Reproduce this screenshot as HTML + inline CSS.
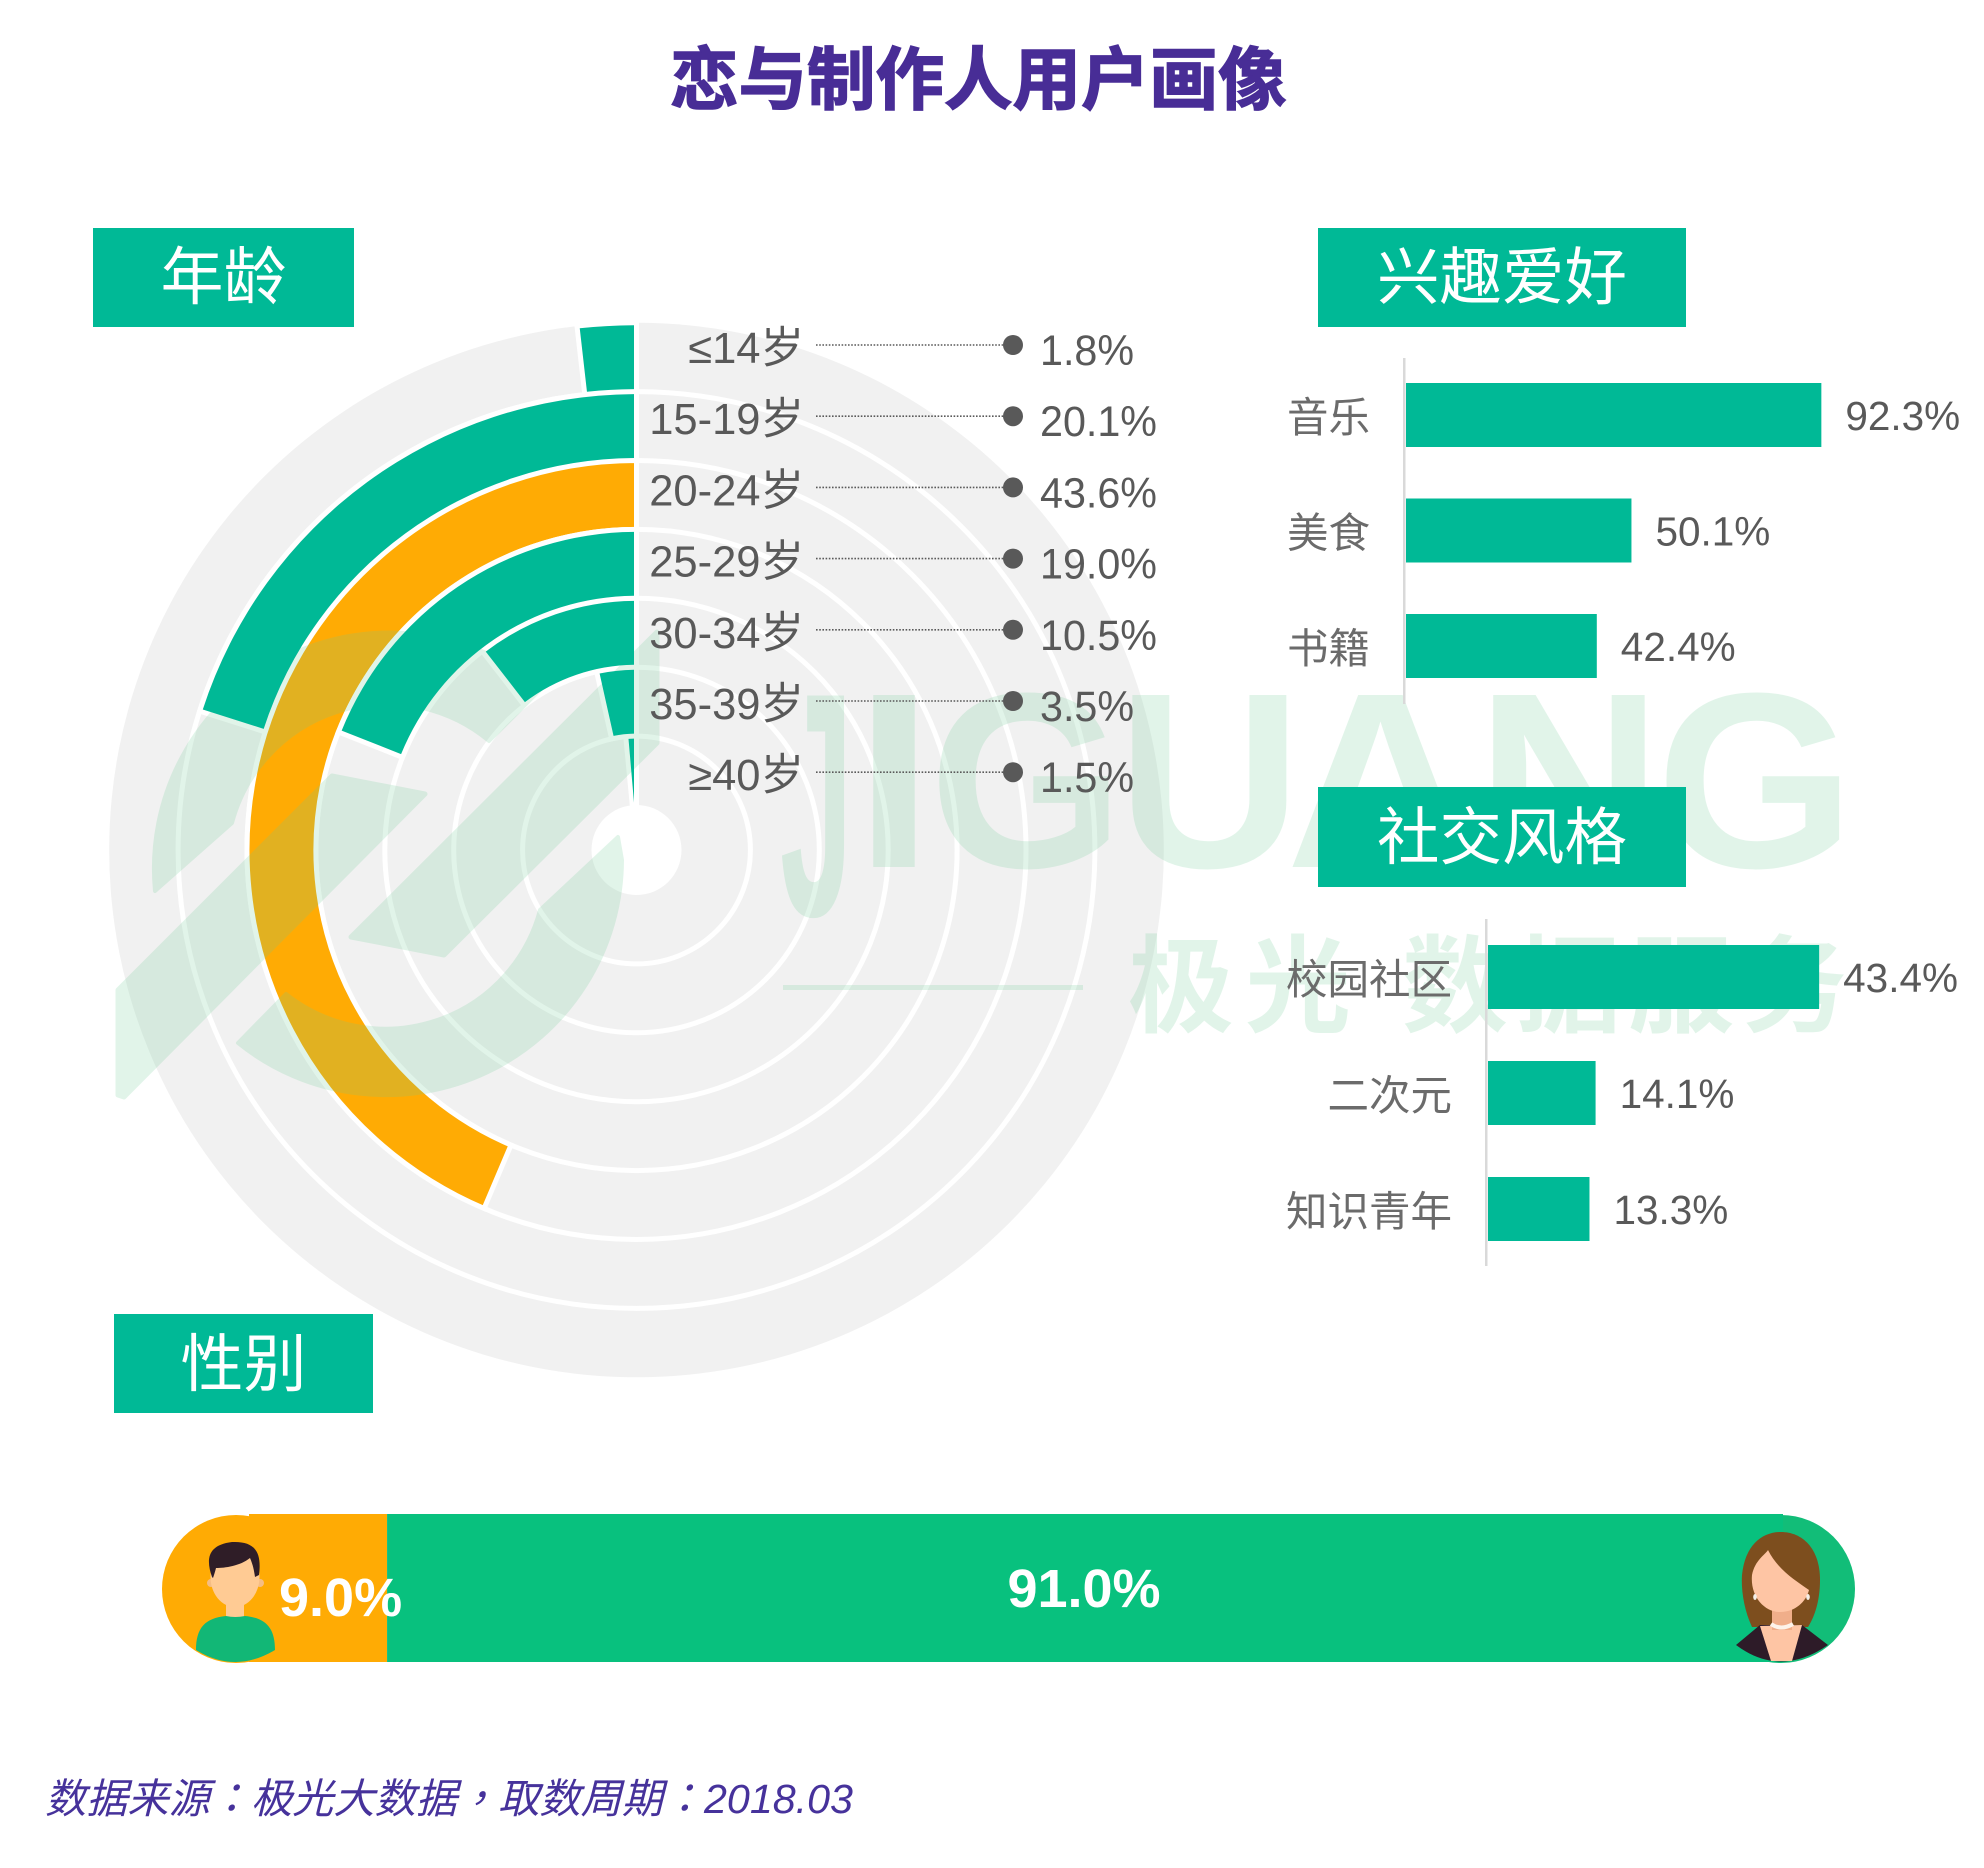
<!DOCTYPE html>
<html lang="zh">
<head>
<meta charset="utf-8">
<title>恋与制作人用户画像</title>
<style>
html,body{margin:0;padding:0;background:#fff;}
svg{display:block;}
text{font-family:"Liberation Sans","Noto Sans CJK SC",sans-serif;}
</style>
</head>
<body>
<svg id="chart" xmlns="http://www.w3.org/2000/svg" width="1984" height="1868" viewBox="0 0 1984 1868">
  <rect width="1984" height="1868" fill="#fff"/>
  <text x="670" y="104" font-size="68.500" font-weight="700" fill="#482d96" stroke="#482d96" stroke-width="1.500">恋与制作人用户画像</text>

  <g id="radial"></g>

  <g id="watermark" opacity="0.2" fill="rgb(110,205,150)" stroke="rgb(110,205,150)" stroke-linejoin="round">
    <path stroke-width="5" d="M118 990 L332 776 L425 794 L124 1097 L118 1095 Z"/>
    <path stroke-width="5" d="M351 937 L657 632 L657 743 L444 955 Z"/>
    <path stroke-width="4" d="M155 891 A236 236 0 0 1 542 688 L489 741 A160 160 0 0 0 232 823 Z"/>
    <path stroke-width="4" d="M238 1043 L286 994 A160 160 0 0 0 540 910 L618 837 L622 860 A236 236 0 0 1 238 1043 Z"/>
    <g stroke="none" font-weight="700">
      <text x="780" y="915" font-size="319" textLength="73" lengthAdjust="spacingAndGlyphs">J</text>
      <text x="854" y="867" font-size="250" textLength="80" lengthAdjust="spacingAndGlyphs">I</text>
      <text x="929" y="867" font-size="250" textLength="195" lengthAdjust="spacingAndGlyphs">G</text>
      <text x="1117" y="867" font-size="250" textLength="185" lengthAdjust="spacingAndGlyphs">U</text>
      <text x="1286" y="867" font-size="250" textLength="189" lengthAdjust="spacingAndGlyphs">A</text>
      <text x="1476" y="867" font-size="250" textLength="186" lengthAdjust="spacingAndGlyphs">N</text>
      <text x="1656" y="867" font-size="250" textLength="199" lengthAdjust="spacingAndGlyphs">G</text>
      <text x="1128" y="1024" font-size="106" letter-spacing="11">极光</text>
      <text x="1402" y="1024" font-size="106" letter-spacing="7">数据服务</text>
    </g>
    <rect x="783" y="985" width="300" height="5" stroke="none"/>
  </g>

  <g id="radial-top"></g>
  <g id="headers">
    <rect x="93" y="228" width="261" height="99" fill="#00b996"/>
    <text x="223.500" y="299" font-size="63" fill="#fff" text-anchor="middle">年龄</text>
    <rect x="1318" y="228" width="368" height="99" fill="#00b996"/>
    <text x="1502" y="299" font-size="62.500" fill="#fff" text-anchor="middle">兴趣爱好</text>
    <rect x="1318" y="787" width="368" height="100" fill="#00b996"/>
    <text x="1502" y="859" font-size="62.500" fill="#fff" text-anchor="middle">社交风格</text>
    <rect x="114" y="1314" width="259" height="99" fill="#00b996"/>
    <text x="243.500" y="1386" font-size="63" fill="#fff" text-anchor="middle">性别</text>
  </g>

  <g id="hobby"></g>
  <g id="social"></g>

  <g id="gender"></g>
  <g>
    <circle cx="211" cy="1583" r="4" fill="#f5bd85"/>
    <circle cx="260" cy="1583" r="4" fill="#f5bd85"/>
    <rect x="226" y="1598" width="18" height="22" rx="4" fill="#ffcb94"/>
    <ellipse cx="235" cy="1577" rx="24.500" ry="30" fill="#ffcb94"/>
    <path d="M196 1650 C196 1628 205 1618 226 1616 Q235 1618 245 1616 C266 1618 275 1628 275 1650 Q235 1674 196 1650 Z" fill="#12b776"/>
    <path d="M212 1577 C206 1560 207 1545 232 1542 C255 1541 262 1552 259 1575 L255 1577 C254 1570 253 1565 250 1558 C240 1566 225 1568 216 1568 C215 1572 214 1575 213 1578 Z" fill="#2f1d27"/>
  </g>
  <g>
    <path d="M1752 1627 C1744 1610 1741 1590 1742 1575 C1745 1545 1762 1532 1781 1532 C1802 1532 1820 1548 1820 1580 C1820 1600 1815 1616 1808 1627 Z" fill="#7d4e1e"/>
    <path d="M1736 1645 L1760 1625 L1802 1625 L1828 1645 Q1780 1678 1736 1645 Z" fill="#2d1b28"/>
    <path d="M1760 1626 L1771 1661 L1792 1661 L1802 1625 Z" fill="#fec5a4"/>
    <rect x="1772" y="1600" width="20" height="30" fill="#f0ae8a"/>
    <path d="M1752 1575 C1755 1560 1765 1555 1768 1550 C1778 1570 1795 1580 1809 1590 C1806 1602 1795 1612 1780 1612 C1764 1612 1750 1596 1752 1575 Z" fill="#fec5a4"/>
    <path d="M1771 1624 Q1781 1631 1793 1624" fill="none" stroke="#fdf3ea" stroke-width="4"/>
    <ellipse cx="1755" cy="1597" rx="1.800" ry="3" fill="#f4efe8"/>
    <ellipse cx="1808" cy="1597" rx="1.800" ry="3" fill="#f4efe8"/>
  </g>
  <text lang="zh-TW" x="45" y="1813" font-size="41.200" font-style="italic" fill="#46329b" style="font-family:'Liberation Sans','Noto Sans CJK TC',sans-serif">数据来源：极光大数据，取数周期：2018.03</text>
</svg>
<script>
const ageCategories = ['≤14岁', '15-19岁', '20-24岁', '25-29岁', '30-34岁', '35-39岁', '≥40岁'];
const ageValues = [1.8, 20.1, 43.6, 19.0, 10.5, 3.5, 1.5];
const hobbyCategories = ['音乐', '美食', '书籍'];
const hobbyValues = [92.3, 50.1, 42.4];
const socialCategories = ['校园社区', '二次元', '知识青年'];
const socialValues = [43.4, 14.1, 13.3];
const genderValues = [9.0, 91.0];

const NS = 'http://www.w3.org/2000/svg';
function make(tag, parent, attrs, txt) {
  const el = document.createElementNS(NS, tag);
  for (const k in attrs) el.setAttribute(k, attrs[k]);
  if (txt !== undefined) el.textContent = txt;
  parent.appendChild(el);
  return el;
}
function fmt(v) { return v.toFixed(1) + '%'; }

/* radial chart */
const cx = 636.5, cy = 850;
const bandCount = ageValues.length;
const holeR = 45, bandW = 68.9, gap = 5;
function bandOuter(i) { return holeR + (bandCount - i) * bandW; }
function bandInner(i) { return holeR + (bandCount - 1 - i) * bandW; }
function angleOf(v) { return v * 3.6 * Math.PI / 180; }
function px(r, a) { return cx - r * Math.sin(a); }
function py(r, a) { return cy - r * Math.cos(a); }
function bandPath(i, v, inset) {
  const a = angleOf(v), ro = bandOuter(i) - inset, ri = bandInner(i) + inset;
  const large = v > 50 ? 1 : 0;
  const startO = inset / ro, startI = inset / ri;
  const endO = Math.max(startO, a - inset / ro), endI = Math.max(startI, a - inset / ri);
  return 'M' + px(ro, startO) + ' ' + py(ro, startO) +
    ' A' + ro + ' ' + ro + ' 0 ' + large + ' 0 ' + px(ro, endO) + ' ' + py(ro, endO) +
    ' L' + px(ri, endI) + ' ' + py(ri, endI) +
    ' A' + ri + ' ' + ri + ' 0 ' + large + ' 1 ' + px(ri, startI) + ' ' + py(ri, startI) + ' Z';
}
const radial = document.getElementById('radial');
const radialTop = document.getElementById('radial-top');
const maxAge = Math.max.apply(null, ageValues);

const disc = make('circle', radial, {cx: cx, cy: cy, r: bandOuter(0), fill: '#f1f1f1'});



for (let i = 1; i < bandCount; i++) {
  const ring = make('circle', radial, {cx: cx, cy: cy, r: bandOuter(i), fill: 'none', stroke: '#fff', 'stroke-width': gap});
  
  
}
ageValues.forEach(function (v, i) {
  const arc = make('path', radial, {
    d: bandPath(i, v, 0),
    fill: v === maxAge ? '#ffab04' : '#f1f1f1',
    stroke: '#fff',
    'stroke-width': gap
  });
  
  
});
const hole = make('circle', radial, {cx: cx, cy: cy, r: holeR, fill: '#fff'});



/* teal arcs sit above the watermark; the highlighted arc stays beneath it */
ageValues.forEach(function (v, i) {
  if (v === maxAge) return;
  const arc = make('path', radialTop, {d: bandPath(i, v, gap / 2), fill: '#00b996'});
  
  
});

function rowY(i) { return 345 + i * 71.2; }
ageCategories.forEach(function (c, i) {
  const y = rowY(i);
  const lab = make('text', radialTop, {
    x: 804, y: y + 18,
    'font-size': 43.5, fill: '#595959', 'text-anchor': 'end'
  }, c);
  
  
  const line = make('line', radialTop, {x1: 816, x2: 1010, y1: y, y2: y, stroke: '#595959', 'stroke-width': 1.6, 'stroke-dasharray': '1.6 1.6'});
  
  
  const dot = make('circle', radialTop, {cx: 1013, cy: y, r: 10, fill: '#595959'});
  
  
  const val = make('text', radialTop, {
    transform: 'translate(1040,' + (y + 20) + ') scale(0.96,1)',
    'font-size': 43, fill: '#595959'
  }, fmt(ageValues[i]));
  
  
});

/* horizontal bars */
function barChart(groupId, cats, vals, x0, unit, rowTop, rowStep, axisTop, axisBottom) {
  const g = document.getElementById(groupId);
  const axis = make('rect', g, {x: x0 - 3, y: axisTop, width: 2.5, height: axisBottom - axisTop, fill: '#d9d9d9'});
  
  
  vals.forEach(function (v, i) {
    const top = rowTop + i * rowStep;
    const w = v * unit;
    const bar = make('rect', g, {x: x0, y: top, width: w, height: 64, fill: '#00b996'});
    
    
    const lab = make('text', g, {x: x0 - 36, y: top + 49, 'font-size': 41.5, fill: '#6b6b6b', 'text-anchor': 'end'}, cats[i]);
    
    
    const val = make('text', g, {x: x0 + w + 24, y: top + 47, 'font-size': 40.5, fill: '#595959'}, fmt(v));
    
    
  });
}
barChart('hobby', hobbyCategories, hobbyValues, 1406, 4.5, 383, 115.5, 358, 704);
barChart('social', socialCategories, socialValues, 1488, 7.63, 945, 116, 919, 1266);

/* gender stacked bar */
const gender = document.getElementById('gender');
const gx0 = 249, gUnit = 15.34;
function gx(v) { return gx0 + v * gUnit; }
const capL = make('circle', gender, {cx: 236, cy: 1589, r: 74, fill: '#ffab04'});


const capR = make('circle', gender, {cx: 1781, cy: 1589, r: 74, fill: '#12bd78'});


const segM = make('rect', gender, {x: gx(0), y: 1514, width: gx(genderValues[0]) - gx(0), height: 148, fill: '#ffab04'});


const segF = make('rect', gender, {x: gx(genderValues[0]), y: 1514, width: gx(genderValues[0] + genderValues[1]) - gx(genderValues[0]), height: 148, fill: '#08c17e'});


const lblM = make('text', document.getElementById('chart'), {x: 279, y: 1616, 'font-size': 54, 'font-weight': 700, fill: '#fff'}, fmt(genderValues[0]));


const lblF = make('text', gender, {x: (gx(genderValues[0]) + gx(genderValues[0] + genderValues[1])) / 2 - 1, y: 1607, 'font-size': 54, 'font-weight': 700, fill: '#fff', 'text-anchor': 'middle'}, fmt(genderValues[1]));


</script>
</body>
</html>
